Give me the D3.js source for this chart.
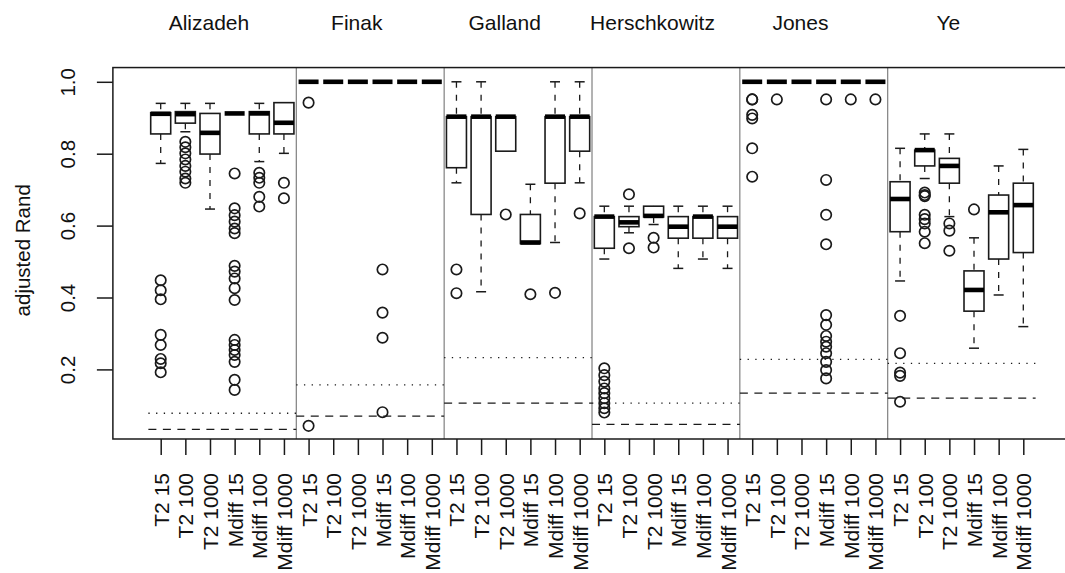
<!DOCTYPE html>
<html>
<head>
<meta charset="utf-8">
<script src="https://cdn.jsdelivr.net/npm/d3@7"></script>
<style>
  html, body { margin: 0; padding: 0; background: #fff; }
  svg { display: block; }
  text { font-family: "Liberation Sans", Arial, Helvetica, sans-serif; fill: #111; }
</style>
</head>
<body>
<svg id="chart" width="1065" height="573"></svg>
<script>
// ---------- data ----------
const datasets = ["Alizadeh", "Finak", "Galland", "Herschkowitz", "Jones", "Ye"];
const methods = ["T2 15", "T2 100", "T2 1000", "Mdiff 15", "Mdiff 100", "Mdiff 1000"];
const yTicks = [0.2, 0.4, 0.6, 0.8, 1.0];
const yTickLabels = ["0.2", "0.4", "0.6", "0.8", "1.0"];
const yLabel = "adjusted Rand";

// per box (dataset-major, 6 methods per dataset)
const lowerWhisker = [
  0.773, 0.861, 0.646, 0.912, 0.778, 0.801,
  1.0, 1.0, 1.0, 1.0, 1.0, 1.0,
  0.719, 0.416, 0.807, 0.550, 0.553, 0.719,
  0.507, 0.580, 0.603, 0.481, 0.507, 0.481,
  1.0, 1.0, 1.0, 1.0, 1.0, 1.0,
  0.446, 0.731, 0.625, 0.259, 0.407, 0.319
];
const lowerHinge = [
  0.855, 0.885, 0.799, 0.912, 0.855, 0.855,
  1.0, 1.0, 1.0, 1.0, 1.0, 1.0,
  0.761, 0.631, 0.807, 0.550, 0.718, 0.807,
  0.537, 0.597, 0.624, 0.565, 0.565, 0.565,
  1.0, 1.0, 1.0, 1.0, 1.0, 1.0,
  0.583, 0.766, 0.718, 0.362, 0.507, 0.525
];
const medians = [
  0.911, 0.910, 0.858, 0.912, 0.912, 0.886,
  1.0, 1.0, 1.0, 1.0, 1.0, 1.0,
  0.903, 0.903, 0.903, 0.553, 0.903, 0.903,
  0.625, 0.609, 0.627, 0.597, 0.625, 0.597,
  1.0, 1.0, 1.0, 1.0, 1.0, 1.0,
  0.674, 0.810, 0.766, 0.421, 0.637, 0.657
];
const upperHinge = [
  0.914, 0.917, 0.912, 0.912, 0.917, 0.942,
  1.0, 1.0, 1.0, 1.0, 1.0, 1.0,
  0.903, 0.903, 0.903, 0.631, 0.903, 0.903,
  0.625, 0.625, 0.654, 0.625, 0.625, 0.625,
  1.0, 1.0, 1.0, 1.0, 1.0, 1.0,
  0.722, 0.810, 0.787, 0.474, 0.685, 0.718
];
const upperWhisker = [
  0.940, 0.940, 0.940, 0.912, 0.940, 0.942,
  1.0, 1.0, 1.0, 1.0, 1.0, 1.0,
  1.0, 1.0, 0.903, 0.715, 1.0, 1.0,
  0.654, 0.654, 0.654, 0.654, 0.654, 0.654,
  1.0, 1.0, 1.0, 1.0, 1.0, 1.0,
  0.815, 0.855, 0.855, 0.566, 0.766, 0.812
];
const outliers = [
  // Alizadeh
  [0.448, 0.420, 0.395, 0.296, 0.268, 0.229, 0.217, 0.192],
  [0.833, 0.818, 0.801, 0.784, 0.766, 0.750, 0.731, 0.719],
  [],
  [0.745, 0.648, 0.629, 0.611, 0.592, 0.579, 0.488, 0.472, 0.453, 0.426, 0.393, 0.282, 0.268, 0.254, 0.240, 0.221, 0.171, 0.143],
  [0.747, 0.733, 0.719, 0.680, 0.653],
  [0.719, 0.676],
  // Finak
  [0.942, 0.043], [], [], [0.478, 0.358, 0.288, 0.081], [], [],
  // Galland
  [0.478, 0.412], [], [0.631], [0.409], [0.413], [0.634],
  // Herschkowitz
  [0.203, 0.184, 0.166, 0.147, 0.134, 0.120, 0.106, 0.092, 0.080],
  [0.687, 0.537], [0.566, 0.539], [], [], [],
  // Jones
  [0.951, 0.951, 0.908, 0.898, 0.815, 0.736], [0.951], [],
  [0.951, 0.727, 0.630, 0.548, 0.351, 0.324, 0.293, 0.277, 0.263, 0.245, 0.221, 0.198, 0.175],
  [0.951], [0.951],
  // Ye
  [0.349, 0.245, 0.191, 0.182, 0.110],
  [0.692, 0.685, 0.682, 0.630, 0.618, 0.606, 0.583, 0.551],
  [0.606, 0.586, 0.530],
  [0.645], [], []
];
const dottedLevel = [0.078, 0.157, 0.233, 0.106, 0.228, 0.217];
const dashedLevel = [0.033, 0.070, 0.106, 0.047, 0.134, 0.120];

// ---------- layout ----------
const svg = d3.select("#chart");
const nBox = datasets.length * methods.length;
const x = d3.scaleLinear().domain([1, nBox]).range([160.7, 1023.3]);
const y = d3.scaleLinear().domain([0, 1]).range([441.3, 81.8]);
const plotLeft = x(-0.94), plotRight = x(nBox + 1.94);
const plotTop = y(1.0396), plotBottom = y(0.0064);
const boxW = 20, capW = 10;
const ink = "#1a1a1a";

const boxes = d3.range(nBox).map(i => ({
  i, pos: i + 1,
  lw: lowerWhisker[i], q1: lowerHinge[i], med: medians[i], q3: upperHinge[i], uw: upperWhisker[i],
  out: outliers[i]
}));

const g = svg.append("g");

// panel separators
g.selectAll("line.sep").data(d3.range(1, datasets.length)).join("line")
  .attr("x1", k => x(k * methods.length + 0.5)).attr("x2", k => x(k * methods.length + 0.5))
  .attr("y1", plotTop).attr("y2", plotBottom)
  .attr("stroke", "#666").attr("stroke-width", 1);

// reference lines per panel
g.selectAll("line.dot").data(dottedLevel).join("line")
  .attr("x1", (v, k) => x(k * 6 + 0.5)).attr("x2", (v, k) => x(k * 6 + 6.5))
  .attr("y1", v => y(v)).attr("y2", v => y(v))
  .attr("stroke", ink).attr("stroke-width", 1.3).attr("stroke-dasharray", "1.3,6.4");
g.selectAll("line.dash").data(dashedLevel).join("line")
  .attr("x1", (v, k) => x(k * 6 + 0.5)).attr("x2", (v, k) => x(k * 6 + 6.5))
  .attr("y1", v => y(v)).attr("y2", v => y(v))
  .attr("stroke", ink).attr("stroke-width", 1.3).attr("stroke-dasharray", "8,6.5");

// boxes
const bg = g.selectAll("g.box").data(boxes).join("g").attr("class", "box");
// whiskers (dashed)
bg.append("line")
  .attr("x1", d => x(d.pos)).attr("x2", d => x(d.pos))
  .attr("y1", d => y(d.uw)).attr("y2", d => y(d.q3))
  .attr("stroke", ink).attr("stroke-width", 1.3).attr("stroke-dasharray", "6,7");
bg.append("line")
  .attr("x1", d => x(d.pos)).attr("x2", d => x(d.pos))
  .attr("y1", d => y(d.q1)).attr("y2", d => y(d.lw))
  .attr("stroke", ink).attr("stroke-width", 1.3).attr("stroke-dasharray", "6,7");
// caps
bg.filter(d => d.uw !== d.q3).append("line")
  .attr("x1", d => x(d.pos) - capW / 2).attr("x2", d => x(d.pos) + capW / 2)
  .attr("y1", d => y(d.uw)).attr("y2", d => y(d.uw))
  .attr("stroke", ink).attr("stroke-width", 1.5);
bg.filter(d => d.lw !== d.q1).append("line")
  .attr("x1", d => x(d.pos) - capW / 2).attr("x2", d => x(d.pos) + capW / 2)
  .attr("y1", d => y(d.lw)).attr("y2", d => y(d.lw))
  .attr("stroke", ink).attr("stroke-width", 1.5);
// box body
bg.append("rect")
  .attr("x", d => x(d.pos) - boxW / 2).attr("width", boxW)
  .attr("y", d => y(d.q3)).attr("height", d => Math.max(0, y(d.q1) - y(d.q3)))
  .attr("fill", "#fff").attr("stroke", ink).attr("stroke-width", 1.6);
// median
bg.append("line")
  .attr("x1", d => x(d.pos) - boxW / 2).attr("x2", d => x(d.pos) + boxW / 2)
  .attr("y1", d => y(d.med)).attr("y2", d => y(d.med))
  .attr("stroke", "#000").attr("stroke-width", 4.6);
// outliers
bg.selectAll("circle").data(d => d.out.map(v => ({ pos: d.pos, v }))).join("circle")
  .attr("cx", d => x(d.pos)).attr("cy", d => y(d.v)).attr("r", 5.2)
  .attr("fill", "none").attr("stroke", ink).attr("stroke-width", 1.7);

// frame
g.append("rect")
  .attr("x", plotLeft).attr("y", plotTop)
  .attr("width", plotRight - plotLeft).attr("height", plotBottom - plotTop)
  .attr("fill", "none").attr("stroke", ink).attr("stroke-width", 1.5);

// y axis
const yAxis = d3.axisLeft(y).tickValues(yTicks).tickSize(16)
  .tickFormat((d, i) => yTickLabels[i]);
const ya = svg.append("g").attr("transform", `translate(${plotLeft},0)`).call(yAxis);
ya.select(".domain").remove();
ya.selectAll(".tick line").attr("stroke", ink).attr("stroke-width", 1.5);
ya.selectAll(".tick text")
  .attr("x", null).attr("dy", null)
  .attr("transform", function() { return `translate(${74.5 - plotLeft},0) rotate(-90)`; })
  .attr("text-anchor", "middle").attr("font-size", 20.5).attr("fill", "#111")
  .style("font-family", '"Liberation Sans", Arial, sans-serif');

// x axis
const xAxis = d3.axisBottom(x).tickValues(d3.range(1, nBox + 1)).tickSize(16)
  .tickFormat(d => methods[(d - 1) % methods.length]);
const xa = svg.append("g").attr("transform", `translate(0,${plotBottom})`).call(xAxis);
xa.select(".domain").remove();
xa.selectAll(".tick line").attr("stroke", ink).attr("stroke-width", 1.5);
xa.selectAll(".tick text")
  .attr("y", null).attr("dy", null)
  .attr("transform", `translate(7.5,${473 - plotBottom}) rotate(-90)`)
  .attr("text-anchor", "end").attr("font-size", 21).attr("fill", "#111")
  .style("font-family", '"Liberation Sans", Arial, sans-serif');

// y label
svg.append("text")
  .attr("transform", `translate(29.5,${(plotTop + plotBottom) / 2 - 3}) rotate(-90)`)
  .attr("text-anchor", "middle").attr("font-size", 20.5)
  .text(yLabel);

// panel titles
svg.selectAll("text.title").data(datasets).join("text")
  .attr("class", "title")
  .attr("x", (d, k) => x(k * 6 + 3.5) - 13.4).attr("y", 30)
  .attr("text-anchor", "middle").attr("font-size", 21)
  .text(d => d);
</script>
</body>
</html>
